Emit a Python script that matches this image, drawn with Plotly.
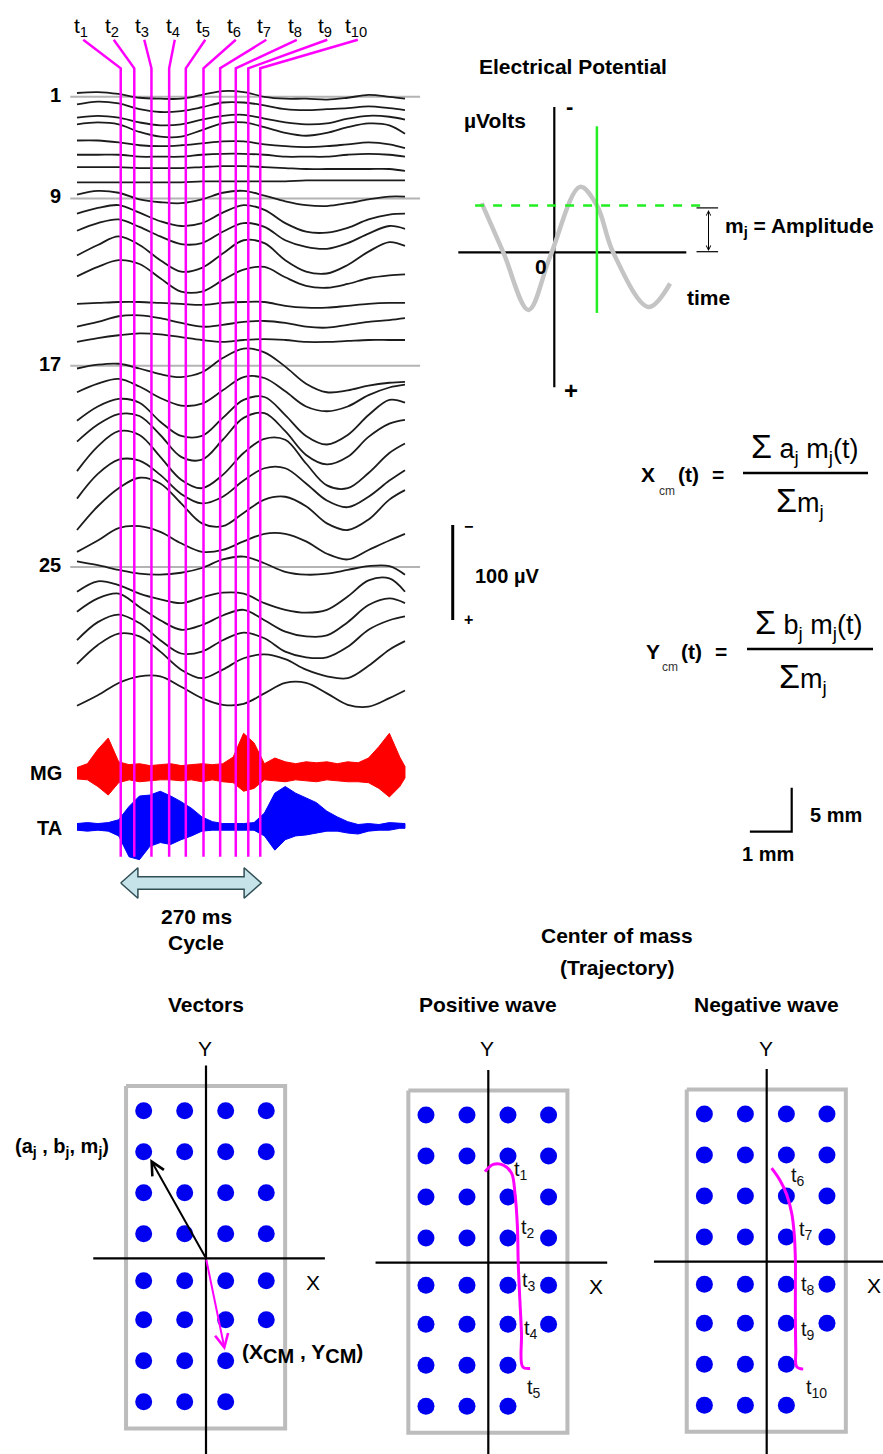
import plotly.graph_objects as go

W, H = 883, 1454
FONT = "Liberation Sans, Arial, Helvetica, sans-serif"

# ======================= DATA =======================
# Top-left: evoked potentials of 30 channels (µV, positive drawn downward), every 40 ms
TIME_MS = [0, 40, 80, 120, 160, 200, 240, 280, 320, 360, 400, 440, 480, 520, 560, 600, 630]
CH01 = [0, -1, 1, 5, 6, 6, 2, -2, -1, 4, 6, 6, 7, 5, 2, 4, 6]
CH02 = [0, -3, -1, 5, 8, 7, 3, -2, -2, 1, 5, 6, 5, 4, 2, 4, 6]
CH03 = [0, -2, 0, 5, 8, 7, 2, -2, -3, 1, 5, 7, 6, 1, -2, -1, 2]
CH04 = [0, -2, 0, 8, 13, 13, 6, -1, -2, 3, 9, 12, 9, 3, -1, 1, 10]
CH05 = [0, 0, 2, 5, 6, 5, 3, 1, 1, 4, 6, 7, 6, 4, 2, 4, 8]
CH06 = [0, 0, 0, 2, 2, 2, 0, -1, -1, 0, 2, 2, 2, 0, -1, 0, 2]
CH07 = [0, 0, 0, 1, 1, 1, 0, -1, -1, 0, 1, 2, 2, 2, 2, 2, 4]
CH08 = [0, 0, 0, 0, 0, 0, -1, -1, -1, -1, -1, -2, -2, -2, -2, -2, -2]
CH09 = [0, -4, -2, 5, 8, 9, 5, -2, -4, 1, 7, 11, 12, 9, 5, 2, 2]
CH10 = [0, -6, -9, -1, 8, 13, 10, -1, -9, -4, 10, 19, 20, 15, 6, 1, 0]
CH11 = [0, -8, -12, -4, 6, 14, 13, 1, -8, -4, 10, 17, 19, 13, 3, -5, -2]
CH12 = [0, -11, -20, -11, 5, 17, 13, -2, -16, -13, 5, 17, 19, 10, -4, -14, -10]
CH13 = [0, -10, -17, -13, 2, 16, 16, 4, -7, -10, 1, 10, 12, 8, 2, -1, -2]
CH14 = [0, -1, -2, -2, -1, 0, 1, -1, -2, -2, 2, 4, 4, 2, 0, -1, -1]
CH15 = [0, -5, -11, -12, -9, -4, 0, -2, -5, -6, -4, 0, 1, -2, -5, -7, -9]
CH16 = [0, -4, -7, -9, -8, -5, -2, 0, -2, -3, -2, 0, 0, -1, -2, -2, -2]
CH17 = [0, -4, -5, 0, 6, 9, 4, -11, -21, -17, -2, 16, 25, 23, 18, 15, 14]
CH18 = [0, -9, -14, -6, 6, 14, 12, -2, -16, -15, -1, 15, 20, 15, 3, -5, -8]
CH19 = [0, -15, -23, -19, 1, 16, 16, -3, -22, -25, -6, 16, 25, 15, -6, -22, -19]
CH20 = [0, -18, -29, -27, -7, 16, 19, -2, -25, -30, -11, 14, 24, 16, -5, -19, -23]
CH21 = [0, -26, -42, -38, -15, 9, 18, 4, -19, -34, -33, -8, 15, 18, 2, -19, -29]
CH22 = [0, -26, -41, -40, -25, -5, 5, -2, -19, -32, -32, -16, 2, 9, -2, -19, -30]
CH23 = [0, -25, -44, -55, -49, -28, -7, -4, -18, -32, -35, -25, -7, 0, -11, -32, -42]
CH24 = [0, -12, -25, -27, -21, -9, 0, -2, -11, -19, -19, -11, 2, 8, -2, -12, -19]
CH25 = [0, 4, 9, 13, 14, 12, 7, -2, -5, 2, 11, 14, 13, 9, 5, 5, 14]
CH26 = [0, -11, -7, 2, 8, 12, 6, 1, 2, 12, 19, 22, 19, 5, -12, -14, 0]
CH27 = [0, -14, -19, -5, 9, 19, 14, 4, -2, 9, 21, 26, 25, 11, -7, -14, -9]
CH28 = [0, -19, -27, -18, 0, 14, 12, 0, -8, -2, 12, 18, 18, 7, -11, -21, -25]
CH29 = [0, -20, -32, -29, -13, 6, 15, 6, -6, -10, -5, 6, 13, 15, 2, -15, -24]
CH30 = [0, -11, -24, -31, -31, -20, -8, -1, -2, -13, -24, -24, -13, -1, 1, -8, -16]
CHANNELS = [CH01, CH02, CH03, CH04, CH05, CH06, CH07, CH08, CH09, CH10,
            CH11, CH12, CH13, CH14, CH15, CH16, CH17, CH18, CH19, CH20,
            CH21, CH22, CH23, CH24, CH25, CH26, CH27, CH28, CH29, CH30]
CHANNEL_OFFSET_UV = [0, 12, 26, 33, 50, 65, 78, 94, 107, 127, 145, 171, 193, 222, 246,
                     262, 290, 315, 345, 367, 398, 427, 460, 483, 493, 525, 546, 576, 601, 645]
ROW_LABELS = ["1", "9", "17", "25"]
ROW_LEVEL_UV = [4, 111, 287, 499]

# EMG envelopes (µV around baseline), every 20 ms
EMG_TIME_MS = [0, 20, 40, 60, 80, 100, 120, 140, 160, 180, 200, 220, 240, 260, 280, 300,
               320, 340, 360, 380, 400, 420, 440, 460, 480, 500, 520, 540, 560, 580, 600, 620, 630]
MG_UPPER_UV = [-6, -10, -25, -37, -12, -9, -10, -8, -9, -10, -8, -9, -10, -9, -10, -17,
               -42, -32, -10, -16, -12, -10, -12, -11, -12, -10, -12, -11, -16, -28, -42, -17, -7]
MG_LOWER_UV = [6, 7, 14, 23, 10, 7, 9, 8, 7, 7, 8, 7, 9, 7, 9, 10,
               19, 16, 7, 8, 9, 7, 8, 9, 7, 8, 9, 9, 10, 16, 25, 14, 5]
TA_UPPER_UV = [-3, -4, -3, -4, -7, -21, -32, -33, -37, -32, -26, -19, -10, -5, -3, -3,
               -3, -4, -14, -35, -42, -35, -30, -25, -16, -10, -5, -2, -3, -2, -4, -3, -3]
TA_LOWER_UV = [4, 5, 4, 5, 10, 32, 35, 21, 17, 19, 14, 10, 5, 4, 4, 4,
               4, 4, 10, 25, 14, 10, 9, 7, 5, 5, 7, 8, 5, 4, 4, 2, 2]
EMG_NAMES = ["MG", "TA"]
EMG_OFFSET_UV = [716, 772]

# time markers t1..t10 (ms) and gait cycle
T_MARKS_MS = [84, 110, 143, 177, 209, 243, 275, 305, 329, 352]
CYCLE_MS = 270
SCALE_UV = 100

# Electrical potential schematic (time ms, µV, positive down)
WAVE_T_MS = [-121, -85, -43, -7, 43, 71, 98, 157, 193]
WAVE_UV = [-82, 0, 96, 7, -109, -78, 0, 91, 52]
SAMPLE_T_MS = 71
AMPLITUDE_UV = -78

# Electrode grid (units of electrode pitch)
ELEC_A = [-1.52, -0.52, 0.48, 1.47]
ELEC_B = [3.6, 2.6, 1.6, 0.6, -0.55, -1.5, -2.5, -3.5]
MISSING = [(3, 6), (3, 7)]
VEC_TIP = (-1.36, 2.42)
CM_TIP = (0.46, -2.24)
POS_TRAJ_X = [-0.08, 0.12, 0.37, 0.57, 0.65, 0.71, 0.73, 0.77, 0.81, 0.84, 1.02]
POS_TRAJ_Y = [2.22, 2.40, 2.38, 2.18, 1.69, 0.88, -0.01, -0.91, -1.72, -2.54, -2.58]
NEG_TRAJ_X = [0.12, 0.32, 0.49, 0.61, 0.67, 0.70, 0.70, 0.70, 0.71, 0.73, 0.89]
NEG_TRAJ_Y = [2.28, 1.99, 1.63, 1.18, 0.69, 0.04, -0.53, -1.34, -2.15, -2.56, -2.62]
POS_LABEL_X = [0.80, 0.96, 0.99, 1.04, 1.12]
POS_LABEL_Y = [2.26, 0.84, -0.46, -1.64, -3.06]
NEG_LABEL_X = [0.77, 0.95, 1.00, 1.00, 1.22]
NEG_LABEL_Y = [2.07, 0.77, -0.57, -1.67, -3.09]

# ======================= LAYOUT HELPERS =======================
def rng_right(origin_px, ppu, total):
    return [(0 - origin_px) / ppu, (total - origin_px) / ppu]

def rng_down(origin_px, ppu, total):  # values grow downward
    return [(total - origin_px) / ppu, (0 - origin_px) / ppu]

def rng_up(origin_px, ppu, total):  # values grow upward
    return [(origin_px - total) / ppu, origin_px / ppu]

fig = go.Figure()
ann = []

def text(xpx, ypx, t, size=20, bold=False, xanchor="center", color="black"):
    if bold:
        t = "<b>" + t + "</b>"
    ann.append(dict(x=xpx / W, y=1 - ypx / H, xref="paper", yref="paper", text=t,
                    showarrow=False, xanchor=xanchor, yanchor="middle",
                    font=dict(size=size, color=color, family=FONT)))

def line(x, y, ax, color="black", width=2, dash=None, shape="linear", fill=None, fillcolor=None):
    fig.add_trace(go.Scatter(x=x, y=y, mode="lines", xaxis=ax[0], yaxis=ax[1],
                             line=dict(color=color, width=width, dash=dash, shape=shape),
                             fill=fill, fillcolor=fillcolor, hoverinfo="skip"))

# axes systems
TR = ("x", "y")      # traces: ms / µV
EP = ("x2", "y2")    # electrical potential schematic
P1, P2, P3 = ("x3", "y3"), ("x4", "y4"), ("x5", "y5")

TR_X0, TR_PPMS = 77, 0.5206
TR_Y0, TR_PPUV = 93, 0.95
EP_X0, EP_Y0, EP_PPU = 554.3, 252.3, 0.6
GRID_PPU = 41
PANELS = [(P1, 206, 1258.3), (P2, 488.3, 1262.7), (P3, 766.7, 1261.7)]

# ======================= TOP-LEFT TRACES =======================
for lvl in ROW_LEVEL_UV:
    line([-13, 659], [lvl, lvl], TR, color="#b4b4b4", width=2)
for off, ch in zip(CHANNEL_OFFSET_UV, CHANNELS):
    line(TIME_MS, [off + v for v in ch], TR, color="#1c1c1c", width=1.8, shape="spline")

for name, off, up, lo, col in zip(EMG_NAMES, EMG_OFFSET_UV, [MG_UPPER_UV, TA_UPPER_UV],
                                  [MG_LOWER_UV, TA_LOWER_UV], ["#ff0000", "#0000ff"]):
    xs = EMG_TIME_MS + EMG_TIME_MS[::-1]
    ys = [off + v for v in up] + [off + v for v in lo[::-1]]
    line(xs, ys, TR, color=col, width=1, fill="toself", fillcolor=col)

# t-lines with leaders
LEADER_TOP_UV, KINK_UV, BOTTOM_UV = -56, -26, 804
leader_tops = [12 + i * 58.6 for i in range(len(T_MARKS_MS))]
for i, (tm, lt) in enumerate(zip(T_MARKS_MS, leader_tops)):
    line([lt, tm, tm], [LEADER_TOP_UV, KINK_UV, BOTTOM_UV], TR, color="#ff00ff", width=2.5)
    xpx = TR_X0 + TR_PPMS * lt - 2
    text(xpx, 27, "t<sub>%d</sub>" % (i + 1), size=21)

# cycle double arrow
c = (883 - TR_Y0) / TR_PPUV
hh, sh, hl = 16, 6.6, 33
t0, t1 = T_MARKS_MS[0], T_MARKS_MS[0] + CYCLE_MS
line([t0, t0 + hl, t0 + hl, t1 - hl, t1 - hl, t1, t1 - hl, t1 - hl, t0 + hl, t0 + hl, t0],
     [c, c - hh, c - sh, c - sh, c - hh, c, c + hh, c + sh, c + sh, c + hh, c], TR,
     color="#2f4f55", width=1.5, fill="toself", fillcolor="#c6e3e9")

# 100 µV scale bar
sb_top = (525 - TR_Y0) / TR_PPUV
line([721.7, 721.7], [sb_top, sb_top + SCALE_UV], TR, width=3)

for lab, lvl in zip(ROW_LABELS, ROW_LEVEL_UV):
    text(63, TR_Y0 + TR_PPUV * lvl - 2, lab, size=20, bold=True, xanchor="right")
text(64, 773, "MG", size=20, bold=True, xanchor="right")
text(64, 828, "TA", size=20, bold=True, xanchor="right")
text(196, 917, "270 ms", size=21, bold=True)
text(196, 942, "Cycle", size=21, bold=True)
text(473, 576, "100 µV", size=20, bold=True, xanchor="left")
text(468, 526, "−", size=16, bold=True)
text(468, 620, "+", size=16, bold=True)

# ======================= ELECTRICAL POTENTIAL =======================
line([0, 0], [-242, 225], EP, width=2.2)
line([-160, 220], [0, 0], EP, width=2.2)
line(WAVE_T_MS, WAVE_UV, EP, color="#c4c4c4", width=4.5, shape="spline")
line([-132, 251], [AMPLITUDE_UV, AMPLITUDE_UV], EP, color="#22ee22", width=2.5, dash="dash")
line([SAMPLE_T_MS, SAMPLE_T_MS], [-210, 101], EP, color="#22ee22", width=2.5)
line([237, 273], [-74, -74], EP, width=1.2)
line([237, 273], [-1, -1], EP, width=1.2)
ann.append(dict(x=257, y=-2, ax=257, ay=-73, xref="x2", yref="y2", axref="x2", ayref="y2",
                text="", showarrow=True, arrowside="end+start", arrowhead=5, startarrowhead=5,
                arrowsize=0.9, startarrowsize=0.9, arrowwidth=1, arrowcolor="black",
                font=dict(size=10, family=FONT)))

text(573, 67, "Electrical Potential", size=21, bold=True)
text(495, 120, "µVolts", size=21, bold=True)
text(569, 107, "-", size=22, bold=True)
text(571, 390, "+", size=24, bold=True)
text(541, 267, "0", size=21, bold=True)
text(708, 297, "time", size=21, bold=True)
text(723, 227, "m<sub>j</sub> = Amplitude", size=21, bold=True, xanchor="left")

# ======================= EQUATIONS =======================
def equation(letter, coef, ymid, xl, xr, numx, denx, xs):
    text(xs[0], ymid + 2, letter, size=21, bold=True)
    text(xs[1], ymid + 18, "cm", size=12, color="#333333")
    text(xs[2], ymid + 2, "(t)", size=21, bold=True)
    text(xs[3], ymid + 2, "=", size=21, bold=True)
    text(numx, ymid - 26, "<span style='font-size:34px'>Σ</span> %s<sub>j</sub> m<sub>j</sub>(t)" % coef, size=27)
    text(denx, ymid + 28, "<span style='font-size:34px'>Σ</span>m<sub>j</sub>", size=27)
    fig.add_shape(type="line", xref="paper", yref="paper", x0=xl / W, x1=xr / W,
                  y0=1 - ymid / H, y1=1 - ymid / H, line=dict(color="black", width=2.5))

equation("X", "a", 473, 743, 868, 804, 800, [648, 667, 688, 718])
equation("Y", "b", 649, 747, 873, 808, 803, [653, 670, 691, 721])

# 5 mm / 1 mm scale bar (panel-3 units)
sbx, sby = (791.7 - 766.7) / GRID_PPU, (1261.7 - 831.7) / GRID_PPU
line([sbx - 1.02, sbx, sbx], [sby, sby, sby + 1.07], P3, width=2.2)
text(808, 815, "5 mm", size=20, bold=True, xanchor="left")
text(768, 854, "1 mm", size=20, bold=True)

# ======================= ELECTRODE PANELS =======================
ex, ey = [], []
for r, b in enumerate(ELEC_B):
    for ci, a in enumerate(ELEC_A):
        if (ci, r) not in MISSING:
            ex.append(a)
            ey.append(b)

titles = ["Vectors", "Positive wave", "Negative wave"]
for (ax, ox, oy), title in zip(PANELS, titles):
    line([-1.95, 1.93, 1.93, -1.95, -1.95], [4.2, 4.2, -4.15, -4.15, 4.2], ax, color="#bcbcbc", width=4)
    line([0, 0], [4.7, -5.0], ax, width=2.2)
    line([-2.75, 2.9], [0, 0], ax, width=2.2)
    fig.add_trace(go.Scatter(x=ex, y=ey, mode="markers", xaxis=ax[0], yaxis=ax[1],
                             marker=dict(size=17, color="#0000f0"), hoverinfo="skip"))
    text(ox, 1004, title, size=21, bold=True)
    text(ox - 1, 1048, "Y", size=21)
    text(ox + 2.62 * GRID_PPU, oy + 0.58 * GRID_PPU, "X", size=21)

line(POS_TRAJ_X, POS_TRAJ_Y, P2, color="#ff00ff", width=3, shape="spline")
line(NEG_TRAJ_X, NEG_TRAJ_Y, P3, color="#ff00ff", width=3, shape="spline")
for i, (x, y) in enumerate(zip(POS_LABEL_X, POS_LABEL_Y)):
    ann.append(dict(x=x, y=y, xref="x4", yref="y4", text="t<sub>%d</sub>" % (i + 1), showarrow=False,
                    font=dict(size=20, family=FONT, color="#111111")))
for i, (x, y) in enumerate(zip(NEG_LABEL_X, NEG_LABEL_Y)):
    ann.append(dict(x=x, y=y, xref="x5", yref="y5", text="t<sub>%d</sub>" % (i + 6), showarrow=False,
                    font=dict(size=20, family=FONT, color="#111111")))

ann.append(dict(x=VEC_TIP[0], y=VEC_TIP[1], ax=0, ay=0, xref="x3", yref="y3", axref="x3", ayref="y3",
                text="", showarrow=True, arrowhead=5, arrowsize=1.3, arrowwidth=2, arrowcolor="black",
                font=dict(size=10, family=FONT)))
ann.append(dict(x=CM_TIP[0], y=CM_TIP[1], ax=0, ay=0, xref="x3", yref="y3", axref="x3", ayref="y3",
                text="", showarrow=True, arrowhead=5, arrowsize=1.3, arrowwidth=2, arrowcolor="#ff00ff",
                font=dict(size=10, family=FONT)))
text(62, 1147, "(a<sub>j</sub> , b<sub>j</sub>, m<sub>j</sub>)", size=20, bold=True)
text(240, 1353, "(X<sub><span style='font-size:20px'>CM</span></sub> , Y<sub><span style='font-size:20px'>CM</span></sub>)",
     size=21, bold=True, xanchor="left")
text(617, 935, "Center of mass", size=21, bold=True)
text(617, 967, "(Trajectory)", size=21, bold=True)

# ======================= AXES =======================
axes = {
    "xaxis": dict(range=rng_right(TR_X0, TR_PPMS, W)),
    "yaxis": dict(range=rng_down(TR_Y0, TR_PPUV, H)),
    "xaxis2": dict(range=rng_right(EP_X0, EP_PPU, W), overlaying="x", anchor="y2"),
    "yaxis2": dict(range=rng_down(EP_Y0, EP_PPU, H), overlaying="y", anchor="x2"),
}
for k, (ax, ox, oy) in enumerate(PANELS):
    n = k + 3
    axes["xaxis%d" % n] = dict(range=rng_right(ox, GRID_PPU, W), overlaying="x", anchor="y%d" % n)
    axes["yaxis%d" % n] = dict(range=rng_up(oy, GRID_PPU, H), overlaying="y", anchor="x%d" % n)
for k, v in axes.items():
    v.update(visible=False, domain=[0, 1], fixedrange=True)

fig.update_layout(width=W, height=H, margin=dict(l=0, r=0, t=0, b=0), autosize=False,
                  paper_bgcolor="white", plot_bgcolor="rgba(0,0,0,0)", showlegend=False,
                  annotations=ann, font=dict(family=FONT, size=20), **axes)
fig.write_html("out.html")
